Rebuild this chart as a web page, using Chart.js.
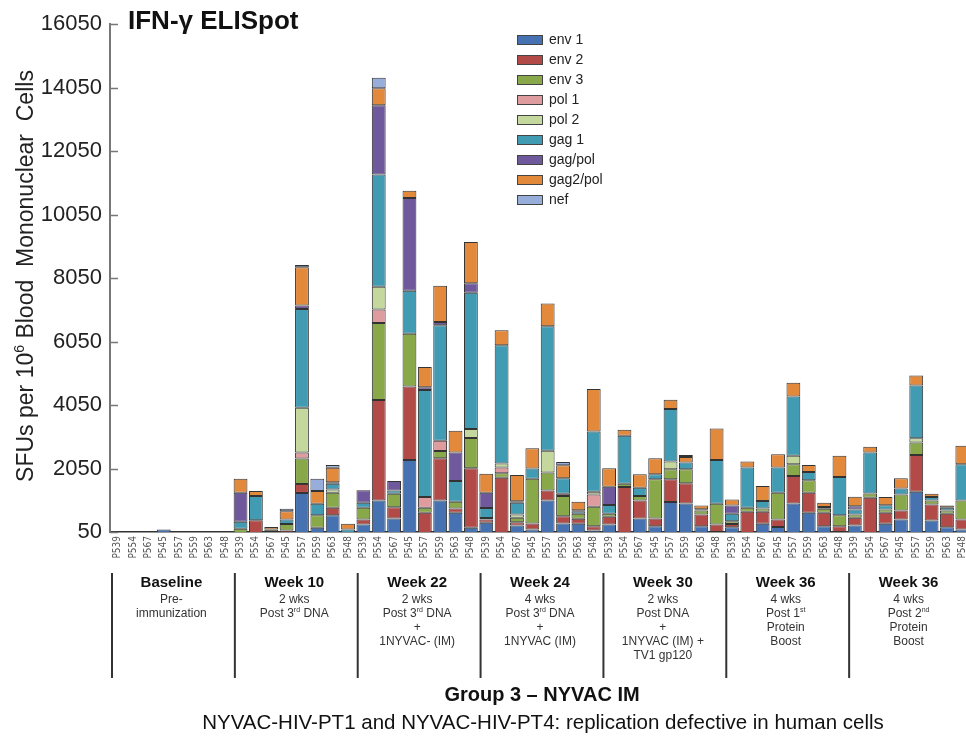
<!DOCTYPE html>
<html>
<head>
<meta charset="utf-8">
<script src="https://cdn.jsdelivr.net/npm/chart.js@4.4.0/dist/chart.umd.min.js"></script>
<style>
  html, body { margin: 0; padding: 0; background: #fff; overflow: hidden; }
  #wrap { width: 980px; height: 740px; }
</style>
</head>
<body>
<div id="wrap"><canvas id="elispot" width="980" height="740"></canvas></div>
<script>
// participants, repeated under every visit
var participants = ["P539", "P554", "P567", "P545", "P557", "P559", "P563", "P548"];
var visits = ["Baseline", "Week 10", "Week 22", "Week 24", "Week 30", "Week 36", "Week 36"];
var visitNotes = [
  ["Pre-", "immunization"],
  ["2 wks", "Post 3^rd DNA"],
  ["2 wks", "Post 3^rd DNA", "+", "1NYVAC- (IM)"],
  ["4 wks", "Post 3^rd DNA", "+", "1NYVAC (IM)"],
  ["2 wks", "Post DNA", "+", "1NYVAC (IM) +", "TV1 gp120"],
  ["4 wks", "Post 1^st", "Protein", "Boost"],
  ["4 wks", "Post 2^nd", "Protein", "Boost"]
];
var yTicks = [50, 2050, 4050, 6050, 8050, 10050, 12050, 14050, 16050];

// SFUs per peptide pool, 8 participants x 7 visits
var env1 = [0, 0, 0, 130, 0, 0, 0, 0,
  0, 0, 30, 0, 1280, 180, 580, 0,
  285, 1045, 475, 2320, 0, 1044, 654, 180,
  338, 0, 253, 127, 1045, 316, 306, 95,
  285, 0, 475, 232, 992, 950, 232, 53,
  200, 0, 306, 211, 950, 654, 232, 53,
  253, 0, 306, 443, 1319, 411, 200, 127];
var env2 = [0, 0, 0, 0, 0, 0, 0, 0,
  0, 420, 30, 95, 285, 0, 230, 0,
  160, 3165, 358, 2310, 654, 1329, 137, 1878,
  105, 1762, 105, 190, 316, 232, 158, 137,
  243, 1466, 570, 243, 717, 633, 369, 232,
  105, 686, 380, 232, 865, 633, 422, 179,
  243, 1129, 348, 285, 1160, 506, 422, 316];
var env3 = [0, 0, 0, 0, 0, 0, 0, 0,
  150, 0, 70, 210, 800, 400, 475, 0,
  370, 2425, 422, 1667, 158, 232, 211, 950,
  50, 137, 137, 1414, 560, 633, 158, 612,
  95, 105, 137, 1234, 316, 443, 127, 654,
  84, 127, 105, 844, 369, 390, 127, 348,
  105, 137, 105, 506, 390, 127, 105, 601];
var pol1 = [0, 0, 0, 0, 0, 0, 0, 0,
  0, 0, 0, 0, 190, 0, 0, 0,
  0, 420, 0, 0, 338, 316, 0, 0,
  0, 179, 0, 0, 0, 74, 0, 390,
  0, 0, 0, 0, 0, 0, 0, 0,
  0, 0, 0, 0, 0, 0, 0, 0,
  0, 0, 0, 0, 0, 0, 0, 0];
var pol2 = [0, 0, 0, 0, 0, 0, 0, 0,
  0, 0, 0, 0, 1410, 0, 105, 0,
  0, 717, 0, 0, 0, 0, 0, 285,
  0, 127, 105, 0, 686, 0, 0, 80,
  0, 0, 0, 0, 243, 0, 0, 0,
  0, 0, 0, 0, 264, 0, 0, 0,
  0, 0, 0, 0, 137, 0, 0, 0];
var gag1 = [0, 0, 0, 0, 0, 0, 0, 0,
  220, 760, 0, 137, 3110, 360, 180, 130,
  160, 3535, 105, 1350, 3376, 3640, 654, 4294,
  316, 3724, 369, 316, 3925, 485, 84, 1899,
  274, 1508, 264, 158, 1656, 211, 42, 1382,
  232, 1266, 232, 791, 1867, 264, 53, 1203,
  158, 1287, 137, 190, 1656, 105, 84, 1139];
var gagPol = [0, 0, 0, 0, 0, 0, 0, 0,
  920, 0, 0, 0, 105, 0, 50, 0,
  390, 2184, 295, 2922, 84, 105, 897, 295,
  475, 0, 53, 0, 0, 0, 30, 0,
  580, 0, 0, 0, 0, 0, 0, 0,
  264, 0, 0, 0, 0, 0, 0, 0,
  105, 0, 0, 0, 0, 0, 0, 0];
var gag2Pol = [0, 0, 0, 0, 0, 0, 0, 0,
  440, 160, 80, 265, 1210, 400, 455, 180,
  0, 538, 0, 232, 633, 1139, 686, 1298,
  601, 475, 823, 643, 717, 411, 264, 1340,
  580, 190, 422, 506, 295, 179, 116, 992,
  190, 190, 475, 422, 432, 221, 137, 665,
  295, 179, 253, 316, 316, 105, 74, 580];
var nef = [0, 0, 0, 0, 0, 0, 0, 0,
  0, 0, 0, 75, 70, 390, 85, 0,
  0, 327, 0, 0, 0, 0, 0, 0,
  0, 0, 0, 0, 0, 105, 0, 0,
  0, 0, 0, 0, 0, 63, 0, 0,
  0, 0, 0, 0, 0, 0, 0, 0,
  0, 0, 0, 0, 0, 0, 0, 0];

var seriesNames = ["env 1", "env 2", "env 3", "pol 1", "pol 2", "gag 1", "gag/pol", "gag2/pol", "nef"];
var seriesData = [env1, env2, env3, pol1, pol2, gag1, gagPol, gag2Pol, nef];
var seriesColors = ["#4672b2", "#b24a48", "#88a84a", "#de9c9e", "#c4d89e", "#419cb3", "#70589c", "#e3893c", "#97aedb"];

var labels = [];
visits.forEach(function () {
  participants.forEach(function (p) { labels.push(p); });
});

var FONT = "'Liberation Sans', Arial, sans-serif";

// text with ^sup parts, drawn centred on cx
function drawRich(ctx, text, cx, y, size, weight) {
  var parts = text.split(/\^(\w+)/);
  var supSize = Math.round(size * 0.62);
  var widths = parts.map(function (t, i) {
    ctx.font = weight + " " + (i % 2 ? supSize : size) + "px " + FONT;
    return ctx.measureText(t).width;
  });
  var total = widths.reduce(function (a, b) { return a + b; }, 0);
  var x = cx - total / 2;
  ctx.textAlign = "left";
  ctx.textBaseline = "alphabetic";
  parts.forEach(function (t, i) {
    ctx.font = weight + " " + (i % 2 ? supSize : size) + "px " + FONT;
    ctx.fillText(t, x, i % 2 ? y - size * 0.38 : y);
    x += widths[i];
  });
}

var extras = {
  id: "extras",
  afterDraw: function (chart) {
    var ctx = chart.ctx;
    var area = chart.chartArea;
    var y = chart.scales.y;
    var catW = (area.right - area.left) / labels.length;
    ctx.save();

    // inward tick marks on the value axis
    ctx.strokeStyle = "#777";
    ctx.lineWidth = 1.5;
    y.ticks.forEach(function (t) {
      var py = Math.round(y.getPixelForValue(t.value)) + 0.5;
      ctx.beginPath();
      ctx.moveTo(area.left, py);
      ctx.lineTo(area.left + 8, py);
      ctx.stroke();
    });

    // title
    ctx.fillStyle = "#111";
    ctx.font = "bold 26px " + FONT;
    ctx.textAlign = "left";
    ctx.textBaseline = "alphabetic";
    ctx.fillText("IFN-\u03b3 ELISpot", 128, 29);

    // value axis title
    ctx.save();
    ctx.translate(26, 276);
    ctx.rotate(-Math.PI / 2);
    ctx.fillStyle = "#222";
    drawRich(ctx, "SFUs per 10^6 Blood  Mononuclear  Cells", 0, 7, 23, "normal");
    ctx.restore();

    // legend
    chart.data.datasets.forEach(function (ds, i) {
      var ly = 40 + i * 20;
      ctx.fillStyle = ds.backgroundColor;
      ctx.fillRect(517, ly - 5, 26, 10);
      ctx.strokeStyle = "#444";
      ctx.lineWidth = 1;
      ctx.strokeRect(517.5, ly - 4.5, 25, 9);
      ctx.fillStyle = "#222";
      ctx.font = "14px " + FONT;
      ctx.textAlign = "left";
      ctx.textBaseline = "middle";
      ctx.fillText(ds.label, 549, ly);
    });

    // visit brackets and captions
    visits.forEach(function (v, g) {
      var x0 = area.left + g * participants.length * catW + 2;
      var cx = area.left + (g + 0.5) * participants.length * catW;
      ctx.strokeStyle = "#333";
      ctx.lineWidth = 2;
      ctx.beginPath();
      ctx.moveTo(x0, 573);
      ctx.lineTo(x0, 678);
      ctx.stroke();
      ctx.fillStyle = "#111";
      drawRich(ctx, v, cx, 587, 15, "bold");
      ctx.fillStyle = "#333";
      visitNotes[g].forEach(function (line, k) {
        drawRich(ctx, line, cx, 603 + k * 14, 12, "normal");
      });
    });

    ctx.fillStyle = "#111";
    drawRich(ctx, "Group 3 \u2013 NYVAC IM", 542, 701, 20, "bold");
    drawRich(ctx, "NYVAC-HIV-PT1 and NYVAC-HIV-PT4: replication defective in human cells", 543, 729, 20.5, "normal");

    ctx.restore();
  }
};

new Chart(document.getElementById("elispot"), {
  type: "bar",
  data: {
    labels: labels,
    datasets: seriesNames.map(function (name, i) {
      return {
        label: name,
        data: seriesData[i].map(function (v) { return v || null; }),
        backgroundColor: seriesColors[i],
        borderColor: "#333",
        borderWidth: 1,
        borderSkipped: false,
        categoryPercentage: 1,
        barPercentage: 0.9
      };
    })
  },
  options: {
    responsive: false,
    animation: false,
    layout: { padding: { top: 24, right: 10, bottom: 0, left: 0 } },
    plugins: { legend: { display: false }, tooltip: { enabled: false } },
    scales: {
      x: {
        stacked: true,
        grid: { display: false, drawTicks: false },
        border: { color: "#333", width: 1.5 },
        ticks: {
          autoSkip: false,
          maxRotation: 90,
          minRotation: 90,
          padding: 4,
          color: "#555",
          font: { family: "'Liberation Sans Narrow', 'DejaVu Sans Condensed', sans-serif", size: 10 }
        },
        afterFit: function (s) { s.height = 208; }
      },
      y: {
        stacked: true,
        min: 50,
        max: 16050,
        afterBuildTicks: function (s) {
          s.ticks = yTicks.map(function (v) { return { value: v }; });
        },
        grid: { display: false, drawTicks: false },
        border: { color: "#777", width: 2 },
        ticks: {
          padding: 8,
          color: "#222",
          font: { family: FONT, size: 22 },
          callback: function (v) { return String(v); }
        },
        afterFit: function (s) { s.width = 110; }
      }
    }
  },
  plugins: [extras]
});
</script>
</body>
</html>
